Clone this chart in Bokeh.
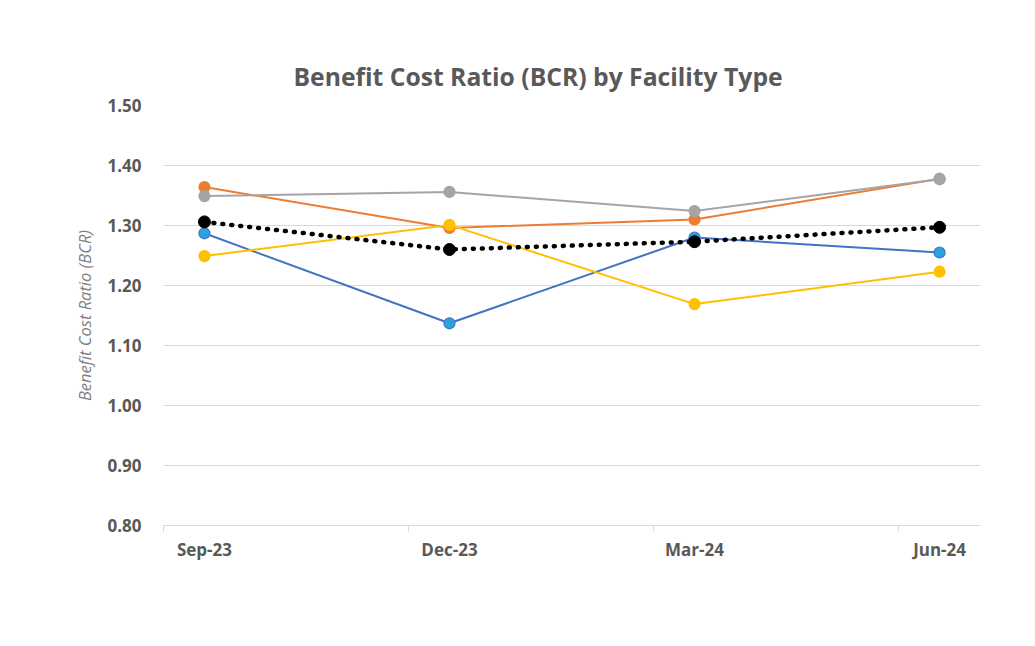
from bokeh.plotting import figure
from bokeh.models import (FixedTicker, Legend, LegendItem, Range1d, Title)
from bokeh.embed import file_html
from bokeh.resources import INLINE

periods = ["Sep-23", "Dec-23", "Mar-24", "Jun-24"]
aquatic = [1.287, 1.137, 1.280, 1.255]
indoor_sports = [1.364, 1.296, 1.310, 1.378]
community = [1.349, 1.356, 1.324, 1.377]
event = [1.249, 1.301, 1.169, 1.223]
bay_venues = [1.306, 1.260, 1.273, 1.297]
y_ticks = [0.80, 0.90, 1.00, 1.10, 1.20, 1.30, 1.40, 1.50]

x = list(range(len(periods)))

FONT = "Open Sans"
TXT = "#595959"

p = figure(frame_width=817, frame_height=420, output_backend="svg", toolbar_location=None,
           x_range=Range1d(-0.167, 3.167), y_range=Range1d(0.80, 1.50),
           min_border_left=163, min_border_right=40, min_border_top=105,
           min_border_bottom=10)
p.outline_line_color = None
p.background_fill_color = "white"
p.border_fill_color = "white"

p.title = Title(text="Benefit Cost Ratio (BCR) by Facility Type", align="left",
                offset=130, text_font=FONT, text_font_size="24.7px",
                text_font_style="bold", text_color=TXT, standoff=26)

# axes
p.xaxis.ticker = FixedTicker(ticks=x, minor_ticks=[-0.167, 0.833, 1.833, 2.833])
p.xaxis.major_label_overrides = {i: s for i, s in enumerate(periods)}
p.xaxis.major_tick_line_color = None
p.xaxis.minor_tick_line_color = "#d9d9d9"
p.xaxis.minor_tick_out = 6
p.xaxis.minor_tick_in = 0
p.xaxis.axis_line_color = "#d9d9d9"
p.xaxis.major_label_text_font = FONT
p.xaxis.major_label_text_font_size = "17px"
p.xaxis.major_label_text_font_style = "bold"
p.xaxis.major_label_text_color = TXT
p.xaxis.major_label_standoff = 6

p.yaxis.ticker = FixedTicker(ticks=y_ticks)
p.yaxis.major_label_overrides = {t: f"{t:.2f}" for t in y_ticks}
p.yaxis.axis_line_color = None
p.yaxis.major_tick_line_color = None
p.yaxis.minor_tick_line_color = None
p.yaxis.major_label_text_font = FONT
p.yaxis.major_label_text_font_size = "17px"
p.yaxis.major_label_text_font_style = "bold"
p.yaxis.major_label_text_color = TXT
p.yaxis.major_label_standoff = 16
p.yaxis.axis_label = "Benefit Cost Ratio (BCR)"
p.yaxis.axis_label_text_font = FONT
p.yaxis.axis_label_text_font_size = "16.5px"
p.yaxis.axis_label_text_font_style = "italic"
p.yaxis.axis_label_text_color = "#7f7f7f"
p.yaxis.axis_label_standoff = 8

p.xgrid.grid_line_color = None
p.ygrid.grid_line_color = "#d9d9d9"
p.ygrid.grid_line_width = 1

series = [
    ("Aquatic", aquatic, "#4472C4", "#29A3E0"),
    ("Indoor sports", indoor_sports, "#ED7D31", "#ED7D31"),
    ("Community", community, "#A5A5A5", "#A5A5A5"),
    ("Event", event, "#FFC000", "#FFC000"),
]

items = []
for name, vals, lc, fc in series:
    l = p.line(x, vals, line_color=lc, line_width=2)
    m = p.scatter(x, vals, size=11, fill_color=fc, line_color=lc, line_width=1.2)
    items.append(LegendItem(label=name, renderers=[l, m]))

lb = p.line(x, bay_venues, line_color="black", line_width=4.5, line_dash="1 8",
            line_cap="round")
mb = p.scatter(x, bay_venues, size=12, fill_color="black", line_color="black")
items.append(LegendItem(label="Bay Venues", renderers=[lb, mb]))

# invisible spacer entry so the visible legend sits centred on the card, not the frame
spacer = p.line(x, bay_venues, line_alpha=0)
items.append(LegendItem(label=" ", renderers=[spacer]))

legend = Legend(items=items, orientation="horizontal", location="top_center",
                glyph_width=50, glyph_height=20, label_text_font=FONT,
                label_text_font_size="16px", label_text_color=TXT,
                spacing=22, padding=0, margin=18, border_line_color=None,
                background_fill_alpha=0, label_standoff=6)
p.add_layout(legend, "below")

open("out.html", "w").write(file_html(p, INLINE))
